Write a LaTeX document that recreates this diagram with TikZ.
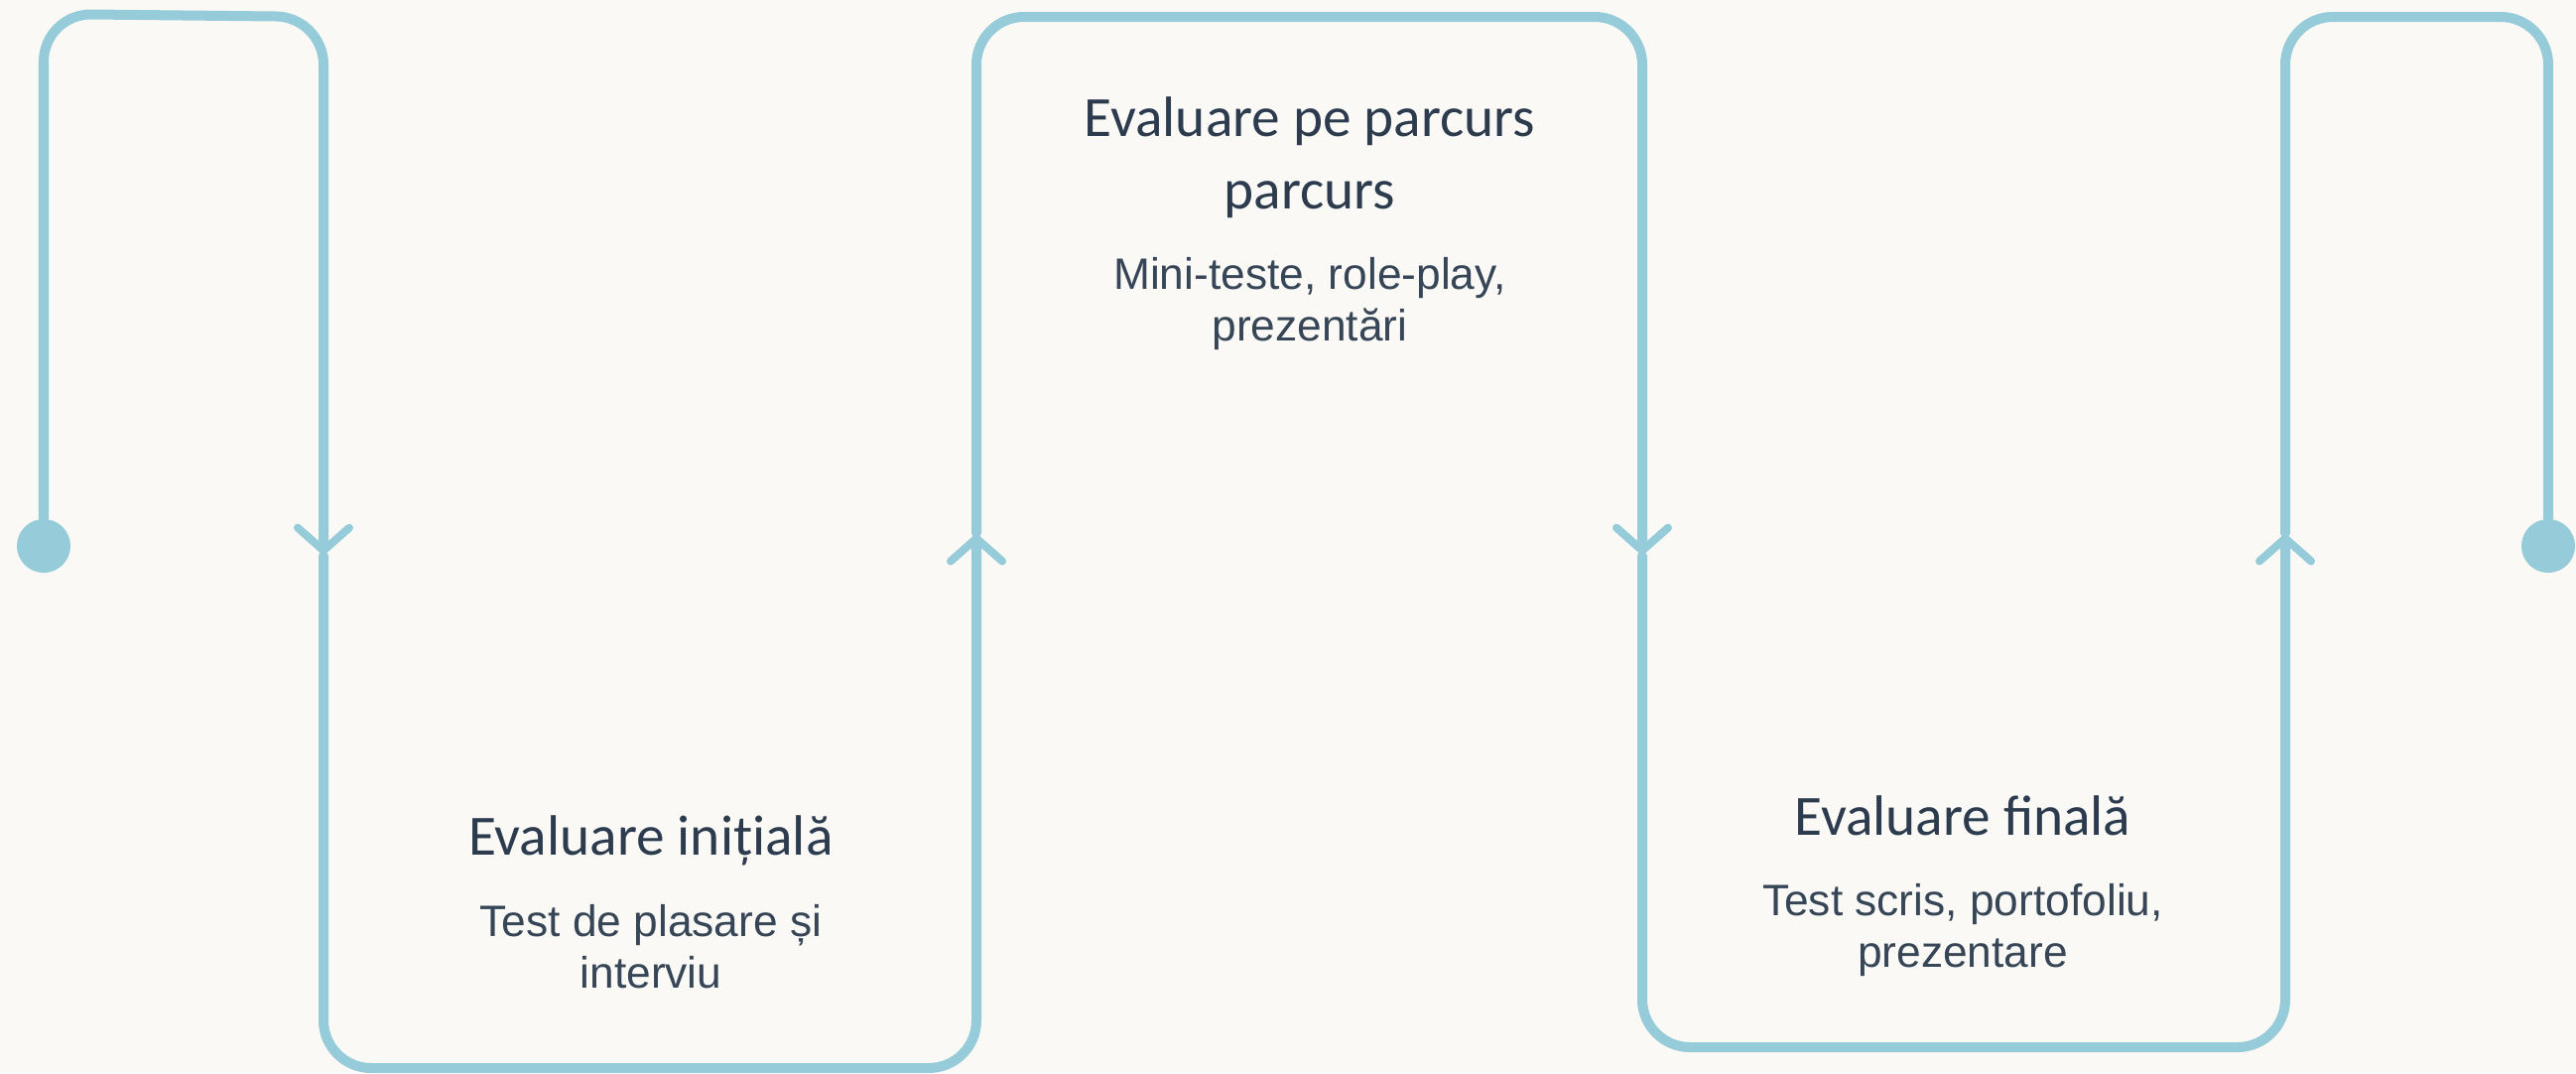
\documentclass[tikz,border=0pt]{standalone}
\usepackage{fontspec}
\setmainfont{Carlito}
\newfontfamily\descfont{Liberation Sans}
\usetikzlibrary{arrows.meta}
\definecolor{lineblue}{HTML}{96CCDA}
\definecolor{titleink}{HTML}{2C3B4E}
\definecolor{descink}{HTML}{374657}
\definecolor{paper}{HTML}{FAF9F5}
\tikzstyle{path_line} = [draw=lineblue, line width=0.1cm, line cap=round, rounded corners=0.48cm]
\tikzstyle{end_dot} = [circle, fill=lineblue, inner sep=0pt, minimum size=0.54cm]
\tikzstyle{title_text} = [anchor=base, align=center, text=titleink, inner sep=0pt, font=\fontsize{16.3}{20.6}\selectfont]
\tikzstyle{desc_text} = [anchor=base, align=center, text=descink, inner sep=0pt, font=\descfont\fontsize{12.6}{14.6}\selectfont]
\tikzset{mid_tip/.tip={Straight Barb[length=0.23cm, width=0.52cm, line width=0.08cm, line cap=round]}}

\begin{document}
\begin{tikzpicture}[x=0.01cm, y=-0.01cm]
\fill[paper] (0,0) rectangle (2596,1081);
\useasboundingbox (0,0) rectangle (2596,1081);
\node (S) at (44,550) [end_dot] {};
\node (E) at (2568,550) [end_dot] {};
\coordinate (D1) at (326,560);
\coordinate (U1) at (984,537);
\coordinate (D2) at (1655,560);
\coordinate (U2) at (2303,537);
\draw[path_line, -{mid_tip}] (S) -- (44,14) -- (326,17) -- (D1);
\draw[path_line, -{mid_tip}] (D1) -- (326,1076) -- (984,1076) -- (U1);
\draw[path_line, -{mid_tip}] (U1) -- (984,17) -- (1655,17) -- (D2);
\draw[path_line, -{mid_tip}] (D2) -- (1655,1055) -- (2303,1055) -- (U2);
\draw[path_line] (U2) -- (2303,17) -- (2568,17) -- (E);
% baselines are those of the last line
\node (T1) at (656,861) [title_text] {Evaluare inițială};
\node (B1) at (656,995) [desc_text] {Test de plasare și\\interviu};
\node (T2) at (1320,210) [title_text] {Evaluare pe parcurs\\parcurs};
\node (B2) at (1320,343) [desc_text] {Mini-teste, role-play,\\prezentări};
\node (T3) at (1978,841) [title_text] {Evaluare finală};
\node (B3) at (1978,974) [desc_text] {Test scris, portofoliu,\\prezentare};
\end{tikzpicture}
\end{document}
